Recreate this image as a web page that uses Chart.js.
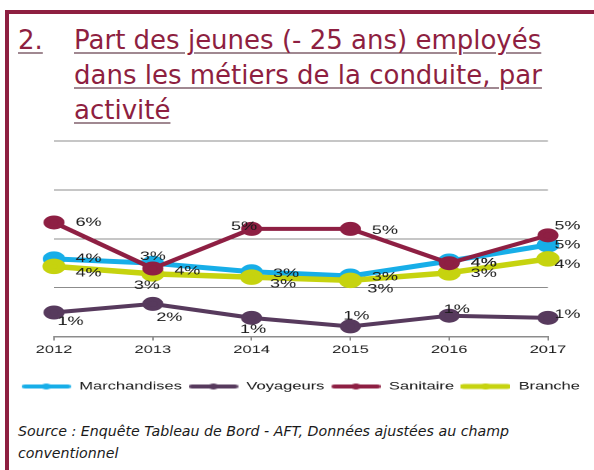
<!DOCTYPE html>
<html lang="fr">
<head>
<meta charset="utf-8">
<script src="https://cdn.jsdelivr.net/npm/chart.js@4.4.1/dist/chart.umd.min.js"></script>
<style>
    html, body { margin: 0; padding: 0; background: #fff; }
    body { width: 594px; height: 470px; position: relative; overflow: hidden; }
    .frame {
        position: absolute; left: 5px; top: 10px; right: 0; bottom: 0;
        border-top: 4px solid #8e1f41; border-left: 4px solid #8e1f41;
    }
    .title, .num {
        position: absolute; top: 23px;
        font-family: "DejaVu Sans", Verdana, sans-serif; font-size: 26px; line-height: 35px;
        color: #8e1f41; white-space: nowrap;
        text-decoration: underline; text-decoration-color: #a08891;
        text-decoration-thickness: 2px; text-underline-offset: 3px;
    }
    .num { left: 18px; }
    .title { left: 74px; }
    .chart-box {
        position: absolute; left: 0; top: 130px; width: 396px; height: 280px;
        transform: scaleX(1.5); transform-origin: 0 0;
    }
    .source {
        position: absolute; left: 18px; top: 420px;
        font-family: "DejaVu Sans", Verdana, sans-serif; font-style: italic;
        font-size: 14.2px; line-height: 22px; color: #1a1a1a; white-space: nowrap;
    }
</style>
</head>
<body>
<div class="frame"></div>
<div class="num">2.</div>
<div class="title">Part des jeunes (- 25 ans) employés<br>dans les métiers de la conduite, par<br>activité</div>
<div class="chart-box"><canvas id="lineChart"></canvas></div>
<div class="source">Source : Enquête Tableau de Bord - AFT, Données ajustées au champ<br>conventionnel</div>

<script>
// data (in %)
const years = ['2012', '2013', '2014', '2015', '2016', '2017'];
const marchandises = [3.9, 3.7, 3.3, 3.1, 3.8, 4.55];
const voyageurs = [1.4, 1.8, 1.15, 0.75, 1.25, 1.15];
const sanitaire = [5.6, 3.45, 5.3, 5.3, 3.7, 5.0];
const branche = [3.55, 3.2, 3.05, 2.9, 3.25, 3.9];

const yMin = 0.28;
const yMax = 9.4;
const font = '"Liberation Sans", Arial, sans-serif';

// legend swatch : thick line with a dot in the middle
function swatch(color, width) {
    const c = document.createElement('canvas');
    c.width = 33;
    c.height = 10;
    const g = c.getContext('2d');
    g.strokeStyle = color;
    g.lineWidth = width;
    g.lineCap = 'round';
    g.beginPath();
    g.moveTo(2, 5);
    g.lineTo(31, 5);
    g.stroke();
    g.fillStyle = color;
    g.beginPath();
    g.arc(16.5, 5, 3, 0, Math.PI * 2);
    g.fill();
    return c;
}

// value labels next to the points
const pointLabels = {
    id: 'pointLabels',
    afterDatasetsDraw(chart) {
        const ctx = chart.ctx;
        ctx.save();
        ctx.font = '12px ' + font;
        ctx.fillStyle = '#1a1a1a';
        ctx.textAlign = 'center';
        ctx.textBaseline = 'middle';
        chart.data.datasets.forEach((ds, i) => {
            chart.getDatasetMeta(i).data.forEach((pt, j) => {
                const off = ds.labelOffsets[j];
                ctx.fillText(Math.round(ds.data[j]) + '%', pt.x + off[0], pt.y + off[1]);
            });
        });
        ctx.restore();
    }
};

const ctxLine = document.getElementById('lineChart');

if (ctxLine) {
    new Chart(ctxLine, {
        type: 'line',
        data: {
            labels: years,
            datasets: [{
                label: 'Marchandises',
                data: marchandises,
                borderColor: '#17aee8',
                backgroundColor: '#17aee8',
                borderWidth: 5,
                order: 2,
                swatch: swatch('#17aee8', 4),
                labelOffsets: [[23, 0], [23, 8], [23, 2], [23, 1], [23, 2], [13, 0]]
            }, {
                label: 'Voyageurs',
                data: voyageurs,
                borderColor: '#573a5d',
                backgroundColor: '#573a5d',
                borderWidth: 4,
                order: 3,
                swatch: swatch('#573a5d', 4),
                labelOffsets: [[11, 9], [11, 14], [1, 12], [4, -10], [5, -6], [13, -3]]
            }, {
                label: 'Sanitaire',
                data: sanitaire,
                borderColor: '#8e1f43',
                backgroundColor: '#8e1f43',
                borderWidth: 4,
                order: 0,
                swatch: swatch('#8e1f43', 4),
                labelOffsets: [[23, 0], [0, -12], [-5, -2], [23, 2], [23, 0], [13, -9]]
            }, {
                label: 'Branche',
                data: branche,
                borderColor: '#c6d30f',
                backgroundColor: '#c6d30f',
                borderWidth: 5.5,
                order: 1,
                swatch: swatch('#c6d30f', 5),
                labelOffsets: [[23, 7], [-4, 12], [21, 7], [20, 9], [23, 1], [13, 6]]
            }]
        },
        options: {
            responsive: true,
            maintainAspectRatio: false,
            animation: false,
            devicePixelRatio: 2,
            layout: {
                padding: { top: 11, left: 5, right: 0, bottom: 8 }
            },
            elements: {
                line: { tension: 0 },
                point: { radius: 5, borderWidth: 0, hoverRadius: 5 }
            },
            plugins: {
                tooltip: { enabled: false },
                legend: {
                    display: true,
                    position: 'bottom',
                    labels: {
                        usePointStyle: true,
                        pointStyleWidth: 33,
                        boxHeight: 10,
                        padding: 4.5,
                        color: '#1a1a1a',
                        font: { size: 11, family: font },
                        sort: (a, b) => a.datasetIndex - b.datasetIndex,
                        generateLabels(chart) {
                            const items = Chart.defaults.plugins.legend.labels.generateLabels(chart);
                            items.forEach(it => {
                                it.pointStyle = chart.data.datasets[it.datasetIndex].swatch;
                            });
                            return items;
                        }
                    }
                }
            },
            scales: {
                x: {
                    offset: false,
                    grid: { drawOnChartArea: false, drawTicks: true, tickLength: 4, color: '#8c8c8c' },
                    border: { color: '#8c8c8c', width: 1.5 },
                    ticks: { color: '#1a1a1a', padding: 3, maxRotation: 0, autoSkip: false, font: { size: 11, family: font } },
                    afterFit(s) { s.height = 40; }
                },
                y: {
                    min: yMin,
                    max: yMax,
                    grid: { color: '#8c8c8c', drawTicks: false },
                    border: { display: false },
                    ticks: { display: false },
                    afterBuildTicks(s) {
                        const step = (yMax - yMin) / 4;
                        s.ticks = [0, 1, 2, 3, 4].map(k => ({ value: yMin + k * step }));
                    },
                    afterFit(s) { s.width = 31; }
                },
                yRight: {
                    position: 'right',
                    grid: { display: false },
                    border: { display: false },
                    ticks: { display: false },
                    afterFit(s) { s.width = 30.7; }
                }
            }
        },
        plugins: [pointLabels]
    });
}
</script>
</body>
</html>
